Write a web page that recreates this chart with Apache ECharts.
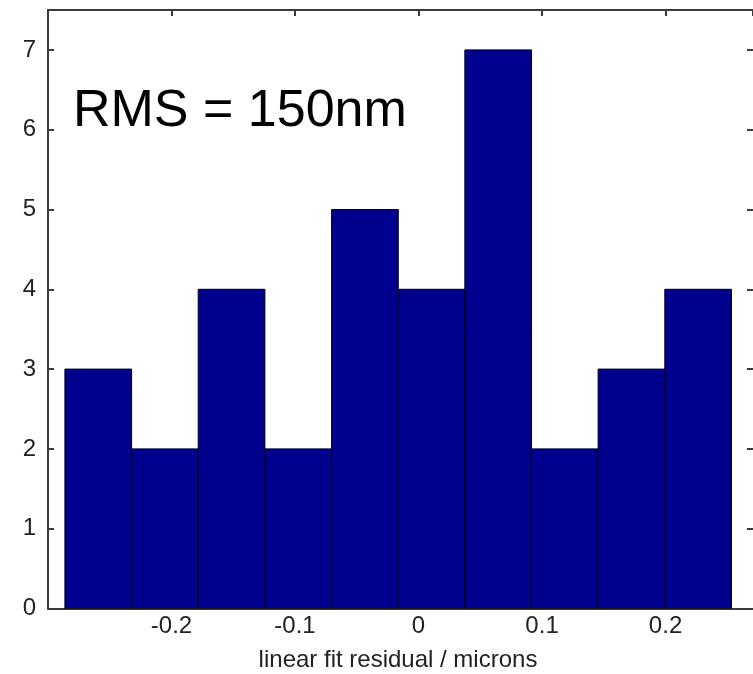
<!DOCTYPE html>
<html>
<head>
<meta charset="utf-8">
<script src="https://cdn.jsdelivr.net/npm/echarts@6/dist/echarts.min.js"></script>
<style>
html,body{margin:0;padding:0;background:#fff;}
#chart{width:753px;height:674px;}
</style>
</head>
<body>
<div id="chart"></div>
<script>
// Histogram data
const binCenters = [-0.2593, -0.2053, -0.1514, -0.0974, -0.0434, 0.0105, 0.0645, 0.1185, 0.1724, 0.2264];
const counts = [3, 2, 4, 2, 5, 4, 7, 2, 3, 4];
const binWidth = 0.054;
const xTicks = [-0.2, -0.1, 0, 0.1, 0.2];
const yTicks = [0, 1, 2, 3, 4, 5, 6, 7];
const annotation = 'RMS = 150nm';
const xTitle = 'linear fit residual / microns';

const FONT = '"Liberation Sans", Arial, Helvetica, sans-serif';
const AXC = '#3a3a3a';

const chart = echarts.init(document.getElementById('chart'), null, {renderer: 'canvas'});

const gridLeft = 48, gridTop = 10, gridW = 706.5, gridH = 598.5;

const seriesData = binCenters.map((c, i) => [c, counts[i]]);

const xLabelFmt = v => {
  const r = Math.round(v * 10) / 10;
  return xTicks.some(t => Math.abs(t - v) < 1e-6) ? String(r) : '';
};
const yLabelFmt = v => yTicks.indexOf(Math.round(v * 1000) / 1000) >= 0 ? String(v) : '';

chart.setOption({
  animation: false,
  backgroundColor: '#ffffff',
  grid: {left: gridLeft, top: gridTop, width: gridW, height: gridH, containLabel: false},
  xAxis: [
    {
      type: 'value', position: 'bottom', min: -0.3, max: 0.2708, interval: 0.1,
      axisLine: {show: true, onZero: false, lineStyle: {color: AXC, width: 2}},
      axisTick: {show: true, inside: true, length: 6, lineStyle: {color: AXC, width: 2}},
      axisLabel: {show: true, margin: 6, formatter: xLabelFmt, color: '#222', fontFamily: FONT, fontSize: 24,
                  showMinLabel: false, showMaxLabel: false},
      splitLine: {show: false}
    },
    {
      type: 'value', position: 'top', min: -0.3, max: 0.2708, interval: 0.1,
      axisLine: {show: true, onZero: false, lineStyle: {color: AXC, width: 2}},
      axisTick: {show: true, inside: true, length: 6, lineStyle: {color: AXC, width: 2}},
      axisLabel: {show: false},
      splitLine: {show: false}
    }
  ],
  yAxis: [
    {
      type: 'value', position: 'left', min: 0, max: 7.5, interval: 1,
      axisLine: {show: true, onZero: false, lineStyle: {color: AXC, width: 2}},
      axisTick: {show: true, inside: true, length: 6, lineStyle: {color: AXC, width: 2}},
      axisLabel: {show: true, margin: 12, formatter: yLabelFmt, color: '#222', fontFamily: FONT, fontSize: 24,
                  showMaxLabel: false},
      splitLine: {show: false}
    },
    {
      type: 'value', position: 'right', min: 0, max: 7.5, interval: 1,
      axisLine: {show: false, onZero: false, lineStyle: {color: AXC, width: 2}},
      axisTick: {show: true, inside: true, length: 6, lineStyle: {color: AXC, width: 2}},
      axisLabel: {show: false},
      splitLine: {show: false}
    }
  ],
  series: [{
    type: 'custom',
    xAxisIndex: 0, yAxisIndex: 0,
    clip: true,
    data: seriesData,
    renderItem: function (params, api) {
      const c = api.value(0), n = api.value(1);
      const p0 = api.coord([c - binWidth / 2, n]);
      const p1 = api.coord([c + binWidth / 2, 0]);
      return {
        type: 'rect',
        shape: {x: p0[0], y: p0[1], width: p1[0] - p0[0], height: p1[1] - p0[1]},
        style: {fill: '#00008F', stroke: '#000000', lineWidth: 1}
      };
    }
  }],
  graphic: [
    {type: 'text', left: 73, top: 86, style: {text: annotation, fill: '#000', font: '52px ' + FONT}},
    {type: 'text', x: 398, y: 660, style: {text: xTitle, fill: '#222', font: '24px ' + FONT, align: 'center', verticalAlign: 'middle'}}
  ]
});
</script>
</body>
</html>
